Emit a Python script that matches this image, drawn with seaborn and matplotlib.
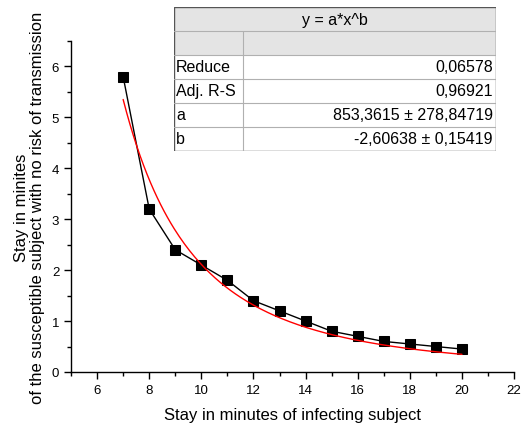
import numpy as np
import pandas as pd
import seaborn as sns
import matplotlib
matplotlib.use("Agg")
import matplotlib.pyplot as plt
from matplotlib.patches import Rectangle
from matplotlib.ticker import MultipleLocator

# measured points
x_minutes = [7, 8, 9, 10, 11, 12, 13, 14, 15, 16, 17, 18, 19, 20]
y_minutes = [5.8, 3.2, 2.4, 2.1, 1.8, 1.4, 1.2, 1.0, 0.8, 0.7, 0.6, 0.55, 0.5, 0.45]

# fit parameters shown in the table (y = a*x^b)
fit_a = 853.3615
fit_b = -2.60638
row_labels = ["Reduce", "Adj. R-S", "a", "b"]
row_values = ["0,06578", "0,96921", "853,3615 \u00b1 278,84719", "-2,60638 \u00b1 0,15419"]

sns.set_theme(style="ticks")
plt.rcParams["font.family"] = ["Liberation Sans", "DejaVu Sans"]

fig = plt.figure(figsize=(5.23, 4.27), dpi=100)
ax = fig.add_axes([0.1358, 0.1265, 0.8472, 0.7751])

df = pd.DataFrame({"x": x_minutes, "y": y_minutes})
xf = np.linspace(min(x_minutes), max(x_minutes), 200)
fit_df = pd.DataFrame({"x": xf, "y": fit_a * xf ** fit_b})

sns.lineplot(data=df, x="x", y="y", ax=ax, color="black", lw=1.0,
             marker="s", markersize=7, markeredgecolor="black", zorder=2)
sns.lineplot(data=fit_df, x="x", y="y", ax=ax, color="red", lw=1.0, zorder=3)

ax.set_xlim(5, 22)
ax.set_ylim(0, 6.5)
ax.xaxis.set_major_locator(MultipleLocator(2))
ax.xaxis.set_minor_locator(MultipleLocator(1))
ax.yaxis.set_major_locator(MultipleLocator(1))
ax.yaxis.set_minor_locator(MultipleLocator(0.5))
ax.tick_params(which="major", length=5, width=1, labelsize=9.5, direction="out",
               color="black", labelcolor="black")
ax.tick_params(which="minor", length=3, width=1, direction="out", color="black")
for s in ["top", "right"]:
    ax.spines[s].set_visible(False)
for s in ["left", "bottom"]:
    ax.spines[s].set_color("black")
    ax.spines[s].set_linewidth(1)

ax.set_xlabel("Stay in minutes of infecting subject", fontsize=12, color="black", labelpad=8)
ax.set_ylabel("Stay in minites\nof the susceptible subject with no risk of transmission",
              fontsize=12, linespacing=1.05, color="black", labelpad=5)

# fit results table
tax = fig.add_axes([174 / 523, (427 - 152) / 427, 322 / 523, 144 / 427])
tax.set_xlim(0, 322)
tax.set_ylim(6, 0)
tax.axis("off")
split = 69
gray = "#e4e4e4"
tax.add_patch(Rectangle((0, 0), 322, 2, facecolor=gray, edgecolor="none"))
for r in range(1, 6):
    tax.plot([0, 322], [r, r], color="#b0b0b0", lw=0.8)
tax.plot([split, split], [1, 6], color="#b0b0b0", lw=0.8)
tax.add_patch(Rectangle((0, 0), 322, 6, facecolor="none", edgecolor="#555555", lw=1.0))
tax.text(161, 0.5, "y = a*x^b", ha="center", va="center", fontsize=11.5, color="black")
for i, (lab, val) in enumerate(zip(row_labels, row_values)):
    tax.text(2, 2.5 + i, lab, ha="left", va="center", fontsize=11.5, color="black")
    tax.text(319, 2.5 + i, val, ha="right", va="center", fontsize=11.5, color="black")

fig.savefig("out.png", dpi=100)
